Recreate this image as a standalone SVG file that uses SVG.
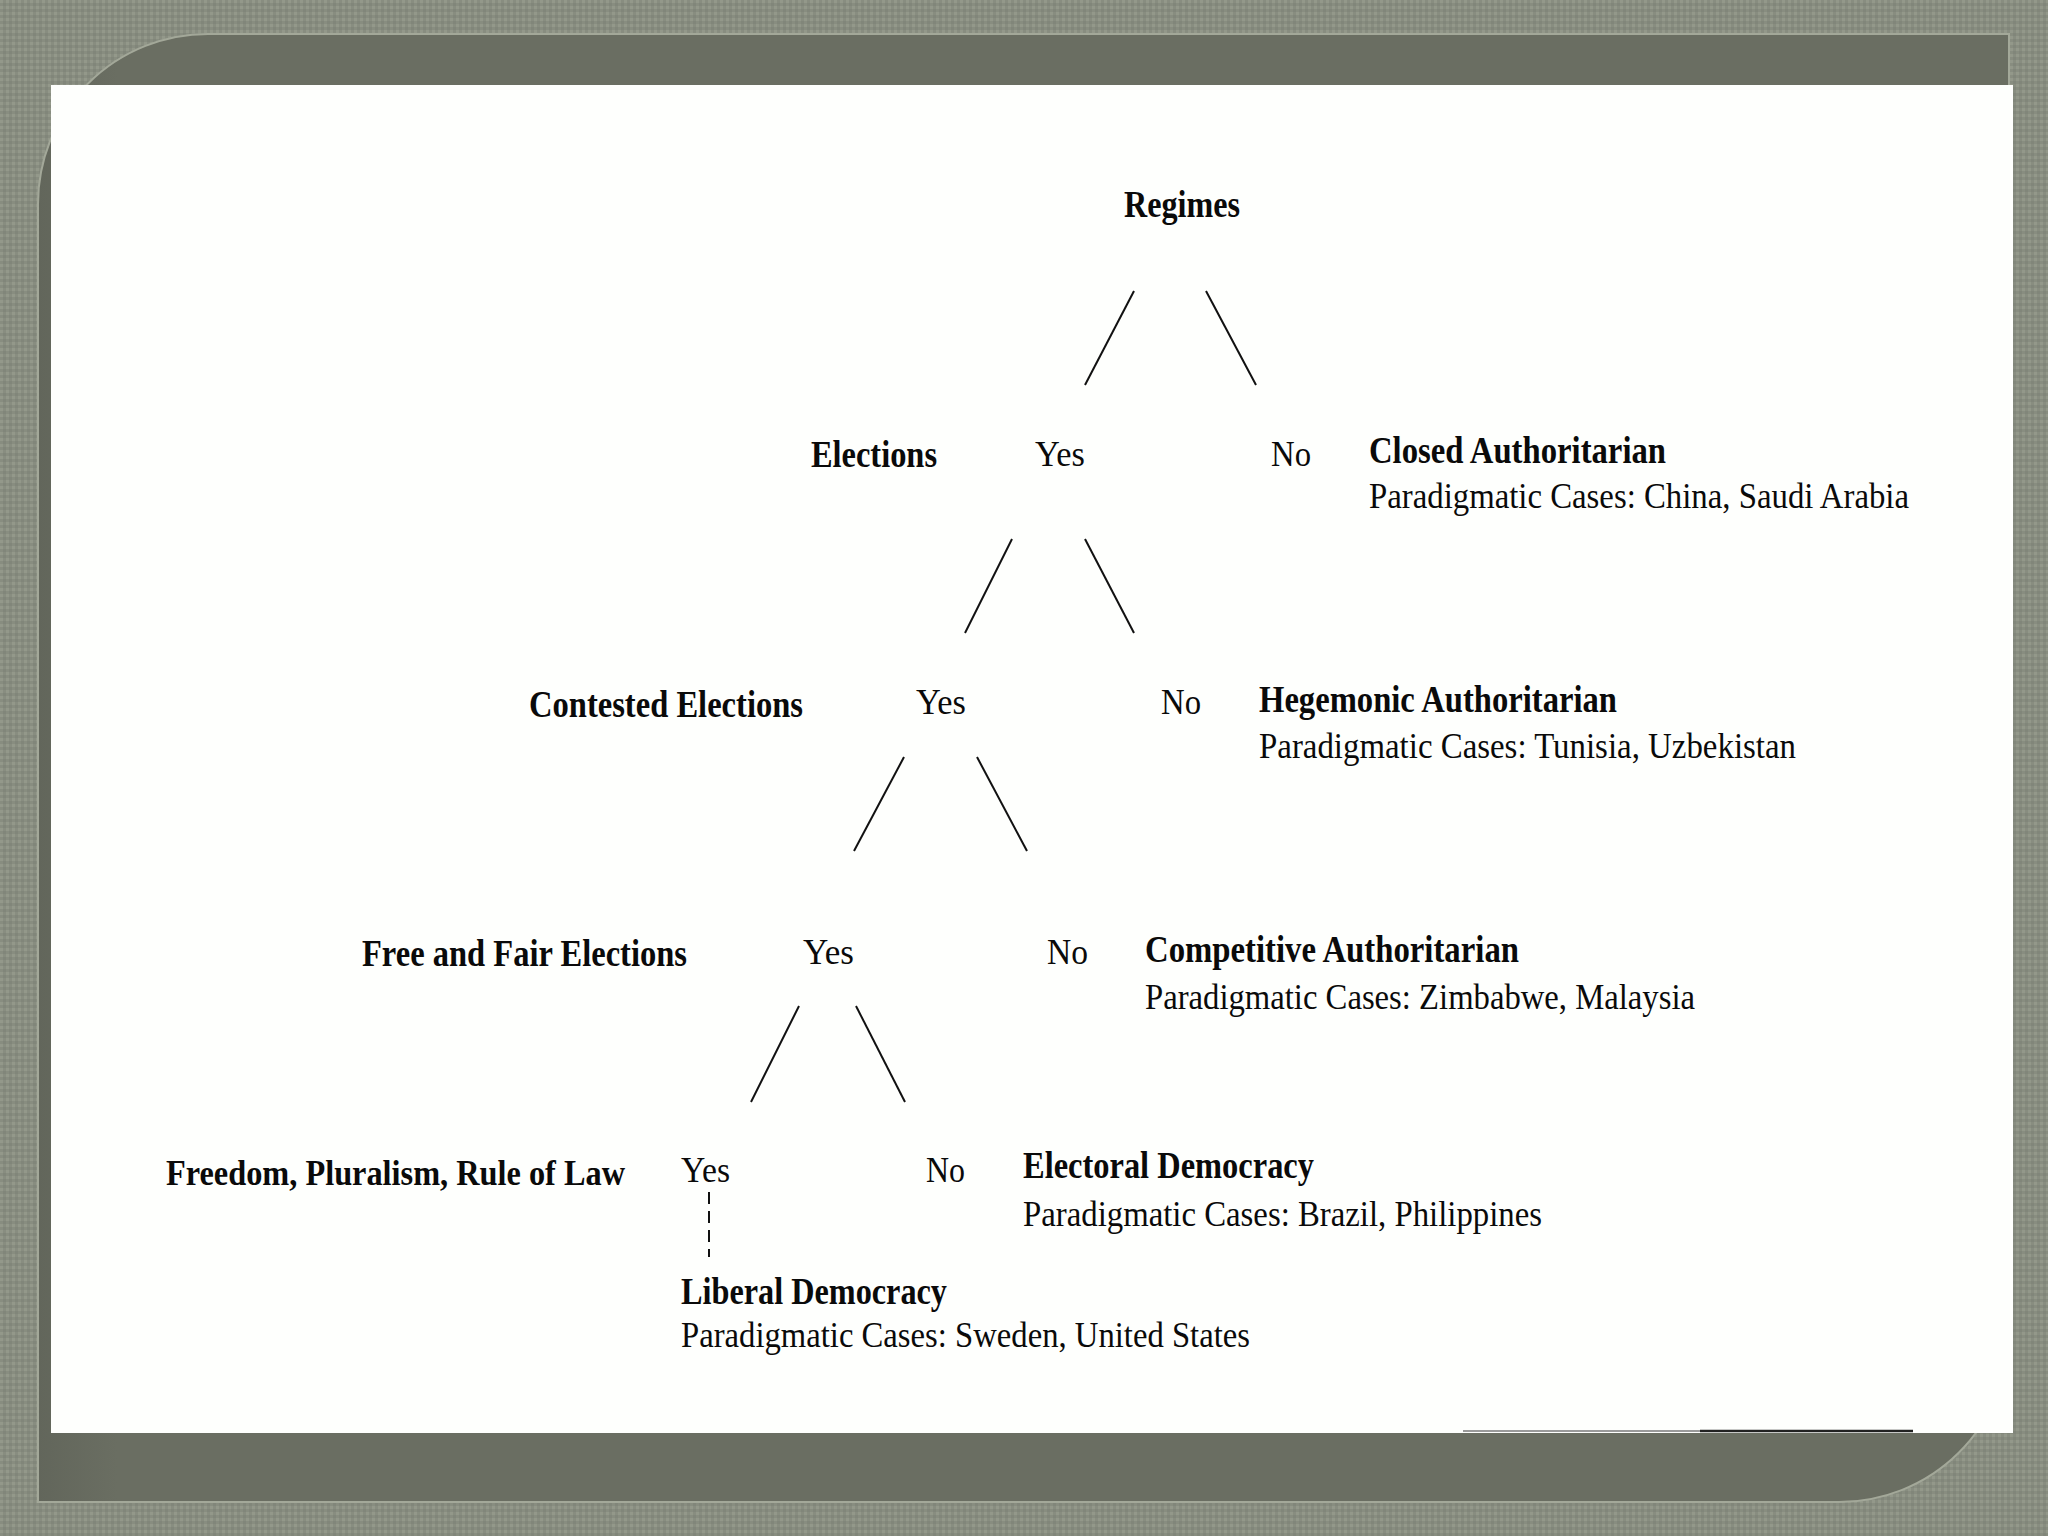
<svg xmlns="http://www.w3.org/2000/svg" width="2048" height="1536" viewBox="0 0 2048 1536">
  <defs>
    <pattern id="texture" x="0" y="0" width="6" height="6" patternUnits="userSpaceOnUse">
      <rect width="6" height="6" fill="#888d80"/>
      <rect x="0" y="0" width="3" height="3" fill="#93988a"/>
      <rect x="3" y="3" width="3" height="3" fill="#81867a"/>
    </pattern>
    <linearGradient id="panelGrad" x1="0" y1="0" x2="1" y2="0">
      <stop offset="0" stop-color="#62665b"/>
      <stop offset="0.04" stop-color="#6a6e62"/>
      <stop offset="1" stop-color="#6a6e62"/>
    </linearGradient>
    <style>
      .b { font-family: "Liberation Serif", "Times New Roman", serif; font-weight: bold; font-size: 37px; fill: #0a0a0a; }
      .r { font-family: "Liberation Serif", "Times New Roman", serif; font-size: 36px; fill: #0a0a0a; }
      .edge { stroke: #111; stroke-width: 2; fill: none; }
      .dash { stroke: #111; stroke-width: 2; fill: none; stroke-dasharray: 12 7; }
    </style>
  </defs>

  <!-- background frame -->
  <rect x="0" y="0" width="2048" height="1536" fill="url(#texture)"/>
  <path d="M208,34 L2009,34 L2009,1332 A170,170 0 0 1 1839,1502 L38,1502 L38,204 A170,170 0 0 1 208,34 Z" fill="url(#panelGrad)" stroke="#a3a899" stroke-width="2"/>
  <rect x="51" y="85" width="1962" height="1348" fill="#fefffd"/>
  <line x1="1463" y1="1431" x2="1700" y2="1431" stroke="#9a9a9a" stroke-width="2"/>
  <line x1="1700" y1="1431" x2="1913" y2="1431" stroke="#222" stroke-width="2.5"/>

  <!-- connectors -->
  <g id="connectors">
    <line class="edge" x1="1134" y1="291" x2="1085" y2="385"/>
    <line class="edge" x1="1206" y1="291" x2="1256" y2="385"/>
    <line class="edge" x1="1012" y1="539" x2="965" y2="633"/>
    <line class="edge" x1="1085" y1="539" x2="1134" y2="633"/>
    <line class="edge" x1="904" y1="757" x2="854" y2="851"/>
    <line class="edge" x1="977" y1="757" x2="1027" y2="851"/>
    <line class="edge" x1="799" y1="1006" x2="751" y2="1102"/>
    <line class="edge" x1="856" y1="1006" x2="905" y2="1102"/>
    <line class="dash" x1="709" y1="1192" x2="709" y2="1257"/>
  </g>

  <!-- nodes -->
  <g id="regimes">
    <text class="b" x="1124" y="217" textLength="116" lengthAdjust="spacingAndGlyphs">Regimes</text>
  </g>

  <g id="elections">
    <text class="b" x="811" y="467" textLength="126" lengthAdjust="spacingAndGlyphs">Elections</text>
    <text class="r" x="1035" y="466" textLength="50" lengthAdjust="spacingAndGlyphs">Yes</text>
    <text class="r" x="1271" y="466" textLength="40" lengthAdjust="spacingAndGlyphs">No</text>
  </g>
  <g id="closed-authoritarian">
    <text class="b" x="1369" y="463" textLength="297" lengthAdjust="spacingAndGlyphs">Closed Authoritarian</text>
    <text class="r" x="1369" y="508" textLength="540" lengthAdjust="spacingAndGlyphs">Paradigmatic Cases: China, Saudi Arabia</text>
  </g>

  <g id="contested-elections">
    <text class="b" x="529" y="717" textLength="274" lengthAdjust="spacingAndGlyphs">Contested Elections</text>
    <text class="r" x="916" y="714" textLength="50" lengthAdjust="spacingAndGlyphs">Yes</text>
    <text class="r" x="1161" y="714" textLength="40" lengthAdjust="spacingAndGlyphs">No</text>
  </g>
  <g id="hegemonic-authoritarian">
    <text class="b" x="1259" y="712" textLength="358" lengthAdjust="spacingAndGlyphs">Hegemonic Authoritarian</text>
    <text class="r" x="1259" y="758" textLength="537" lengthAdjust="spacingAndGlyphs">Paradigmatic Cases: Tunisia, Uzbekistan</text>
  </g>

  <g id="free-fair-elections">
    <text class="b" x="362" y="966" textLength="325" lengthAdjust="spacingAndGlyphs">Free and Fair Elections</text>
    <text class="r" x="803" y="964" textLength="51" lengthAdjust="spacingAndGlyphs">Yes</text>
    <text class="r" x="1047" y="964" textLength="41" lengthAdjust="spacingAndGlyphs">No</text>
  </g>
  <g id="competitive-authoritarian">
    <text class="b" x="1145" y="962" textLength="374" lengthAdjust="spacingAndGlyphs">Competitive Authoritarian</text>
    <text class="r" x="1145" y="1009" textLength="550" lengthAdjust="spacingAndGlyphs">Paradigmatic Cases: Zimbabwe, Malaysia</text>
  </g>

  <g id="freedom-pluralism">
    <text class="b" x="166" y="1185" textLength="459" lengthAdjust="spacingAndGlyphs" style="font-size:35px">Freedom, Pluralism, Rule of Law</text>
    <text class="r" x="681" y="1182" textLength="49" lengthAdjust="spacingAndGlyphs">Yes</text>
    <text class="r" x="926" y="1182" textLength="39" lengthAdjust="spacingAndGlyphs">No</text>
  </g>
  <g id="electoral-democracy">
    <text class="b" x="1023" y="1178" textLength="291" lengthAdjust="spacingAndGlyphs">Electoral Democracy</text>
    <text class="r" x="1023" y="1226" textLength="519" lengthAdjust="spacingAndGlyphs">Paradigmatic Cases: Brazil, Philippines</text>
  </g>

  <g id="liberal-democracy">
    <text class="b" x="681" y="1304" textLength="266" lengthAdjust="spacingAndGlyphs">Liberal Democracy</text>
    <text class="r" x="681" y="1347" textLength="569" lengthAdjust="spacingAndGlyphs">Paradigmatic Cases: Sweden, United States</text>
  </g>
</svg>
